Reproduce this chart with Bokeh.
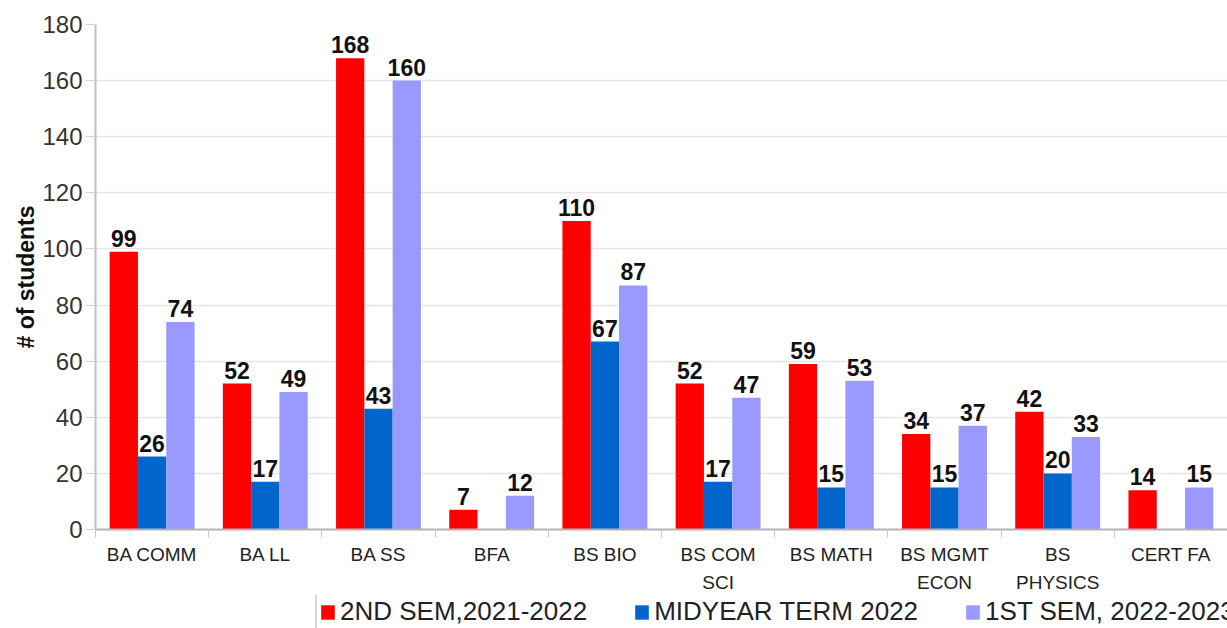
import numpy as np
from bokeh.plotting import figure
from bokeh.layouts import column
from bokeh.models import (Range1d, FixedTicker, Legend, LegendItem, ColumnDataSource,
                          LabelSet)
from bokeh.core.properties import value
from bokeh.embed import file_html
from bokeh.resources import INLINE

categories = ["BA COMM", "BA LL", "BA SS", "BFA", "BS BIO", "BS COM\nSCI", "BS MATH",
              "BS MGMT\nECON", "BS\nPHYSICS", "CERT FA"]
series_names = ["2ND SEM,2021-2022", "MIDYEAR TERM 2022", "1ST SEM, 2022-2023"]
sem2_2122 = [99, 52, 168, 7, 110, 52, 59, 34, 42, 14]
midyear_22 = [26, 17, 43, None, 67, 17, 15, 15, 20, None]
sem1_2223 = [74, 49, 160, 12, 87, 47, 53, 37, 33, 15]
y_ticks = [0, 20, 40, 60, 80, 100, 120, 140, 160, 180]

colors = ["#ff0000", "#0066cc", "#9999ff"]
offsets = [-0.25, 0.0, 0.25]
FONT = "Liberation Sans"

n = len(categories)
centers = np.arange(n) + 0.5

p = figure(frame_width=1132, frame_height=505, output_backend="svg", toolbar_location=None,
           x_range=Range1d(0, n), y_range=Range1d(0, 180),
           min_border_left=95, min_border_right=0, min_border_top=24, min_border_bottom=100)
p.outline_line_color = None
p.background_fill_color = "white"
p.border_fill_color = "white"

for vals, name, col, off in zip([sem2_2122, midyear_22, sem1_2223], series_names, colors, offsets):
    xs = [c + off for c, v in zip(centers, vals) if v is not None]
    ys = [v for v in vals if v is not None]
    src = ColumnDataSource(dict(x=xs, top=ys, lab=[str(v) for v in ys]))
    p.vbar(x="x", top="top", width=0.25, source=src, fill_color=col, line_color=None)
    labels = LabelSet(x="x", y="top", text="lab", source=src, text_align="center",
                      text_baseline="bottom", y_offset=5, text_font=value(FONT),
                      text_font_size=value("23px"), text_font_style=value("bold"),
                      text_color=value("#111111"))
    p.add_layout(labels)

# x axis
xa = p.xaxis[0]
xa.ticker = FixedTicker(ticks=list(centers), minor_ticks=list(range(n + 1)))
xa.major_label_overrides = {float(c): lab for c, lab in zip(centers, categories)}
xa.major_tick_out = 0
xa.major_tick_in = 0
xa.minor_tick_out = 8
xa.minor_tick_in = 0
xa.minor_tick_line_color = "#c8c8c8"
xa.axis_line_color = "#b3b3b3"
xa.axis_line_width = 2
xa.major_label_standoff = 6
xa.major_label_text_font = FONT
xa.major_label_text_font_size = "19px"
xa.major_label_text_color = "#222222"
xa.major_label_text_line_height = 1.35

# y axis
ya = p.yaxis[0]
ya.ticker = FixedTicker(ticks=y_ticks)
ya.minor_tick_line_color = None
ya.major_tick_out = 10
ya.major_tick_in = 0
ya.major_tick_line_color = "#d0d0d0"
ya.axis_line_color = "#c0c0c0"
ya.axis_line_width = 2
ya.major_label_standoff = 3
ya.major_label_text_font = FONT
ya.major_label_text_font_size = "24px"
ya.major_label_text_color = "#333333"
ya.axis_label = "# of students"
ya.axis_label_text_font = FONT
ya.axis_label_text_font_size = "23px"
ya.axis_label_text_font_style = "bold"
ya.axis_label_text_color = "#111111"
ya.axis_label_standoff = 0

p.xgrid.grid_line_color = None
p.ygrid.grid_line_color = "#e6e6e6"
p.ygrid.grid_line_width = 1.5

# legend strip, pulled up under the category labels
p2 = figure(width=1227, height=33, output_backend="svg", toolbar_location=None,
            x_axis_type=None, y_axis_type=None, x_range=Range1d(0, 1), y_range=Range1d(0, 1),
            min_border=0, margin=(-34, 0, 0, 0))
p2.outline_line_color = None
p2.background_fill_color = None
p2.border_fill_color = None
items = []
for name, col in zip(series_names, colors):
    # legend proxy glyph placed outside the visible range of the strip
    r = p2.vbar(x=[5], top=[5], bottom=[4], width=0.1, fill_color=col, line_color=None)
    items.append(LegendItem(label=name, renderers=[r]))

legend = Legend(items=items, orientation="horizontal", location=(220, -3),
                label_text_font=FONT, label_text_font_size="26px", label_text_color="#222222",
                glyph_width=17, glyph_height=18, label_standoff=4, spacing=46,
                padding=2, margin=0, border_line_color="#b0b0b0", border_line_width=2,
                background_fill_color="white")
p2.add_layout(legend, "center")

layout = column(p, p2, spacing=0)
open("out.html", "w").write(file_html(layout, INLINE))
